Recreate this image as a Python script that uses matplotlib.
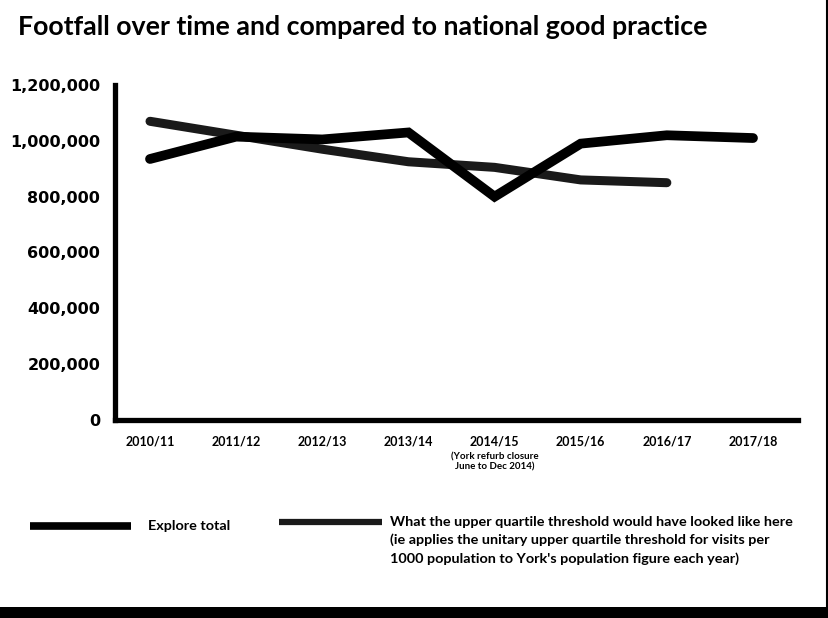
import matplotlib
matplotlib.use('Agg')
import matplotlib.pyplot as plt
from matplotlib.lines import Line2D
from matplotlib.patches import Rectangle
from matplotlib.ticker import FuncFormatter

# ---- data ----
years = ['2010/11', '2011/12', '2012/13', '2013/14', '2014/15', '2015/16', '2016/17', '2017/18']
explore_total = [935000, 1015000, 1005000, 1030000, 800000, 990000, 1020000, 1010000]
upper_quartile = [1070000, 1020000, 970000, 925000, 905000, 860000, 850000]
y_ticks = [0, 200000, 400000, 600000, 800000, 1000000, 1200000]

title = 'Footfall over time and compared to national good practice'
note = '(York refurb closure\nJune to Dec 2014)'
legend_1 = 'Explore total'
legend_2 = ('What the upper quartile threshold would have looked like here\n'
            '(ie applies the unitary upper quartile threshold for visits per\n'
            "1000 population to York's population figure each year)")

W, H = 829, 618
fig = plt.figure(figsize=(W / 100, H / 100), dpi=100)
FONT = 'Lato'


def fx(x):
    return x / W


def fy(y):
    return 1 - y / H


def fit(t, target):
    fig.canvas.draw()
    r = fig.canvas.get_renderer()
    w = t.get_window_extent(r).width
    t.set_fontsize(t.get_fontsize() * target / w)


# ---- axes ----
left, right, top, bottom = 115.5, 798, 85, 420
ax = fig.add_axes([fx(left), fy(bottom), (right - left) / W, (bottom - top) / H])
x = list(range(len(years)))
ax.plot(x[:len(upper_quartile)], upper_quartile, color='#1a1a1a', lw=6.5,
        solid_capstyle='round', solid_joinstyle='miter')
ax.plot(x, explore_total, color='black', lw=7,
        solid_capstyle='round', solid_joinstyle='miter')

step = (753 - 150) / 7
ax.set_xlim(-(150 - left) / step, 7 + (right - 753) / step)
ax.set_ylim(0, 1200000)
ax.set_xticks(x)
ax.set_xticklabels(years, fontfamily=FONT, fontweight='bold', fontsize=9)
ax.set_yticks(y_ticks)
ax.yaxis.set_major_formatter(FuncFormatter(lambda v, p: f'{int(v):,}'))
for lab in ax.get_yticklabels():
    lab.set_fontfamily('DejaVu Sans')
    lab.set_fontweight('bold')
    lab.set_fontsize(11.5)
ax.tick_params(axis='both', length=0)
ax.tick_params(axis='y', pad=11)
ax.tick_params(axis='x', pad=11)
for s in ['top', 'right']:
    ax.spines[s].set_visible(False)
for s in ['left', 'bottom']:
    ax.spines[s].set_linewidth(3.8)
    ax.spines[s].set_color('black')
    ax.spines[s].set_capstyle('projecting')

# ---- annotation under 2014/15 ----
ax.annotate(note, xy=(4, 0), xycoords=('data', 'axes fraction'),
            xytext=(0, -23), textcoords='offset points', ha='center', va='top',
            fontfamily=FONT, fontweight='bold', fontsize=7, linespacing=1.15)

# ---- title ----
t = fig.text(fx(18), fy(35), title, fontfamily=FONT, fontweight='bold',
             fontsize=17, ha='left', va='baseline')
fit(t, 709 - 18)

# ---- legend ----
fig.add_artist(Line2D([fx(30), fx(131)], [fy(526), fy(526)], color='black', lw=5.5,
                      solid_capstyle='butt'))
fig.add_artist(Line2D([fx(279), fx(382)], [fy(522), fy(522)], color='#1a1a1a', lw=4.5,
                      solid_capstyle='butt'))
t2 = fig.text(fx(390), fy(516), legend_2, fontfamily=FONT, fontweight='bold',
              fontsize=9, ha='left', va='top', linespacing=1.55)
fit(t2, 794 - 390)
t1 = fig.text(fx(148), fy(526), legend_1, fontfamily=FONT, fontweight='bold',
              fontsize=t2.get_fontsize(), ha='left', va='center')

# ---- border / scan band ----
fig.add_artist(Line2D([fx(827), fx(827)], [fy(0), fy(607)], color='black', lw=1.5))
fig.add_artist(Rectangle((0, 0), 1, 11 / H, transform=fig.transFigure,
                         facecolor='black', edgecolor='none'))

fig.savefig('out.png', dpi=100)
